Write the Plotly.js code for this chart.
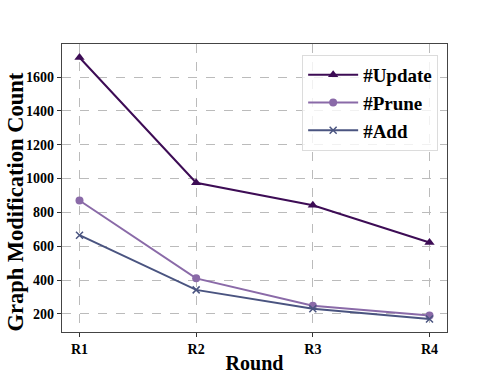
<!DOCTYPE html>
<html><head><meta charset="utf-8">
<script src="https://cdn.plot.ly/plotly-3.0.1.min.js"></script>
<style>html,body{margin:0;padding:0;background:#fff}#c{width:498px;height:374px}</style>
</head><body><div id="c"></div>
<script>
const rounds = ["R1", "R2", "R3", "R4"];
const updateCounts = [1715, 975, 842, 622];
const pruneCounts = [870, 410, 248, 190];
const addCounts = [665, 342, 230, 170];
const yTicks = [200, 400, 600, 800, 1000, 1200, 1400, 1600];

const xIdx = rounds.map((_, i) => i);
const ff = "Liberation Serif, Times New Roman, serif";

const traces = [
  {name: "<b>#Update</b>", x: xIdx, y: updateCounts, mode: "lines+markers",
   line: {color: "#3d0c55", width: 2}, marker: {symbol: "triangle-up", size: 9, color: "#3d0c55"}},
  {name: "<b>#Prune</b>", x: xIdx, y: pruneCounts, mode: "lines+markers",
   line: {color: "#8a6aa8", width: 2}, marker: {symbol: "circle", size: 8, color: "#8a6aa8"}},
  {name: "<b>#Add</b>", x: xIdx, y: addCounts, mode: "lines+markers",
   line: {color: "#4a5480", width: 2}, marker: {symbol: "x-thin", size: 7, color: "#4a5480", line: {color: "#4a5480", width: 1.5}}}
];

const layout = {
  width: 498, height: 374,
  margin: {l: 62, r: 51, t: 44, b: 42},
  paper_bgcolor: "#fff", plot_bgcolor: "#fff",
  font: {family: ff, color: "#000"},
  showlegend: true,
  legend: {x: 0.977, y: 0.962, xanchor: "right", yanchor: "top",
    bgcolor: "rgba(255,255,255,0.8)", bordercolor: "#dcdcdc", borderwidth: 1,
    font: {family: ff, size: 19, color: "#000"}, tracegroupgap: 0, itemwidth: 50},
  xaxis: {
    range: [-0.15, 3.15], tickmode: "array", tickvals: xIdx,
    ticktext: rounds.map(r => "<b>" + r + "</b>"),
    tickfont: {family: ff, size: 14},
    ticks: "outside", ticklen: 4, tickcolor: "#333",
    showline: true, mirror: true, linecolor: "#444", linewidth: 1.2,
    showgrid: true, gridcolor: "#bbb", griddash: "dash", gridwidth: 1, zeroline: false,
    title: {text: "<b>Round</b>", font: {family: ff, size: 20}, standoff: 2}
  },
  yaxis: {
    range: [93, 1795], tickmode: "array", tickvals: yTicks,
    ticktext: yTicks.map(v => "<b>" + v + "</b>"),
    tickfont: {family: ff, size: 14},
    ticks: "outside", ticklen: 4, tickcolor: "#333",
    showline: true, mirror: true, linecolor: "#444", linewidth: 1.2,
    showgrid: true, gridcolor: "#bbb", griddash: "dash", gridwidth: 1, zeroline: false
  },
  annotations: [{
    text: "<b>Graph Modification Count</b>", textangle: -90,
    xref: "paper", yref: "paper", x: -0.121, y: 0.451, xanchor: "center", yanchor: "middle",
    showarrow: false, font: {family: ff, size: 22.5, color: "#000"}
  }]
};
Plotly.newPlot("c", traces, layout, {displayModeBar: false, staticPlot: true});
</script></body></html>
